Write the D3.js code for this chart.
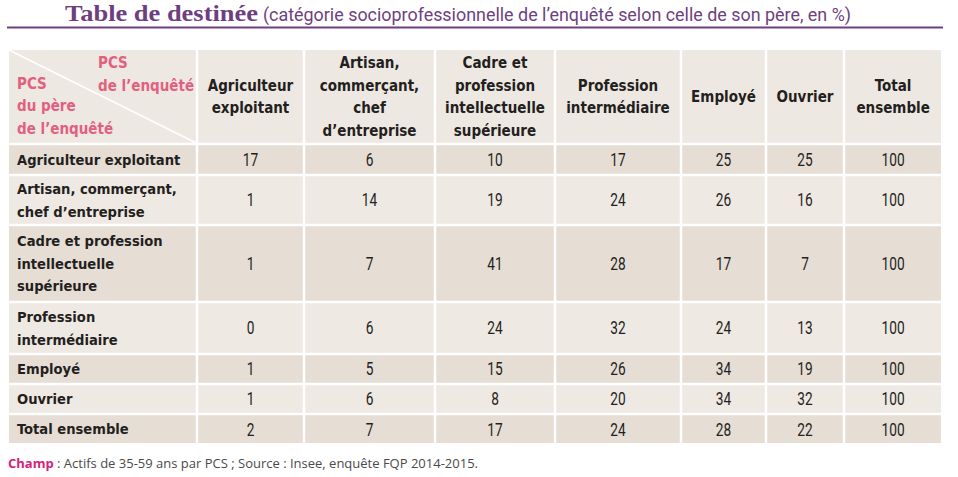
<!DOCTYPE html>
<html><head><meta charset="utf-8">
<script src="https://cdn.jsdelivr.net/npm/d3@7"></script>
<style>
html,body{margin:0;padding:0;background:#fff;}
svg{display:block;}
</style></head>
<body>
<svg id="chart" width="958" height="477"></svg>
<script>
// ---------- data ----------
const titleMain = "Table de destinée";
const titleSub = "(catégorie socioprofessionnelle de l’enquêté selon celle de son père, en %)";
const cornerTop = ["PCS", "de l’enquêté"];
const cornerBottom = ["PCS", "du père", "de l’enquêté"];
const colHeaders = [
  ["Agriculteur", "exploitant"],
  ["Artisan,", "commerçant,", "chef", "d’entreprise"],
  ["Cadre et", "profession", "intellectuelle", "supérieure"],
  ["Profession", "intermédiaire"],
  ["Employé"],
  ["Ouvrier"],
  ["Total", "ensemble"]
];
const rowLabels = [
  ["Agriculteur exploitant"],
  ["Artisan, commerçant,", "chef d’entreprise"],
  ["Cadre et profession", "intellectuelle", "supérieure"],
  ["Profession", "intermédiaire"],
  ["Employé"],
  ["Ouvrier"],
  ["Total ensemble"]
];
const values = [
  [17, 6, 10, 17, 25, 25, 100],
  [1, 14, 19, 24, 26, 16, 100],
  [1, 7, 41, 28, 17, 7, 100],
  [0, 6, 24, 32, 24, 13, 100],
  [1, 5, 15, 26, 34, 19, 100],
  [1, 6, 8, 20, 34, 32, 100],
  [2, 7, 17, 24, 28, 22, 100]
];
const footBold = "Champ";
const footText = " : Actifs de 35-59 ans par PCS ; Source : Insee, enquête FQP 2014-2015.";

// ---------- layout ----------
const colEdges = [9, 197, 304, 435, 555, 681, 766, 844, 941];   // boundaries between columns
const rowEdges = [50, 144, 175, 225, 302, 354, 384, 414, 443];   // boundaries between rows
const gap = 2.5;
const lineH = 22.5;
const C = {
  purple: "#6e3f80",
  pink: "#e2607f",
  magenta: "#d4237a",
  dark: "#e6ddd5",
  light: "#efe9e3",
  head: "#eee8e2",
  text: "#231f20",
  foot: "#4a4a4a"
};
const condBold = "'DejaVu Sans Condensed','DejaVu Sans',sans-serif";
const numFont = "Roboto,'Noto Sans',sans-serif";

const svg = d3.select("#chart");

const nCols = colEdges.length - 1, nRows = rowEdges.length - 1;
const xL = d3.scaleOrdinal().domain(d3.range(nCols)).range(colEdges.slice(0, -1));
const xR = d3.scaleOrdinal().domain(d3.range(nCols)).range(colEdges.slice(1));
const yT = d3.scaleOrdinal().domain(d3.range(nRows)).range(rowEdges.slice(0, -1));
const yB = d3.scaleOrdinal().domain(d3.range(nRows)).range(rowEdges.slice(1));
const cell = (r, c) => {
  const x0 = xL(c) + (c === 0 ? 0 : gap / 2), x1 = xR(c) - (c === nCols - 1 ? 0 : gap / 2);
  const y0 = yT(r) + (r === 0 ? 0 : gap / 2), y1 = yB(r) - (r === nRows - 1 ? 0 : gap / 2);
  return {x: x0, y: y0, w: x1 - x0, h: y1 - y0, cx: (x0 + x1) / 2, cy: (y0 + y1) / 2};
};

// ---------- title ----------
svg.append("text").attr("x", 65).attr("y", 21).text(titleMain)
  .attr("font-family", "'Liberation Serif','Times New Roman',serif")
  .attr("font-weight", "bold").attr("font-size", 23).attr("fill", C.purple)
  .attr("textLength", 193).attr("lengthAdjust", "spacingAndGlyphs");
svg.append("text").attr("x", 263).attr("y", 21).text(titleSub)
  .attr("font-family", numFont).attr("font-size", 18).attr("fill", C.purple)
  .attr("textLength", 588).attr("lengthAdjust", "spacingAndGlyphs");
svg.append("line").attr("x1", 7).attr("x2", 943).attr("y1", 27.5).attr("y2", 27.5)
  .attr("stroke", C.purple).attr("stroke-width", 2);

// ---------- cells ----------
const cellsData = [];
for (let r = 0; r < nRows; r++) for (let c = 0; c < nCols; c++) cellsData.push({r, c});
svg.append("g").selectAll("rect").data(cellsData).join("rect")
  .each(function(d){ Object.assign(d, cell(d.r, d.c)); })
  .attr("x", d => d.x).attr("y", d => d.y).attr("width", d => d.w).attr("height", d => d.h)
  .attr("fill", d => d.r === 0 ? C.head : (d.r % 2 === 1 ? C.dark : C.light));

// corner diagonal
const k = cell(0, 0);
svg.append("line").attr("x1", k.x).attr("y1", k.y).attr("x2", k.x + k.w).attr("y2", k.y + k.h)
  .attr("stroke", "#fff").attr("stroke-width", 1.5);

function multi(g, lines, x, cy, anchor, opts) {
  const t = g.append("text").attr("x", x).attr("text-anchor", anchor)
    .attr("font-family", opts.family).attr("font-weight", opts.weight || "normal")
    .attr("font-size", opts.size).attr("fill", opts.fill);
  const n = lines.length;
  lines.forEach((ln, i) => {
    t.append("tspan").attr("x", x).attr("y", cy + (i - (n - 1) / 2) * lineH).attr("dy", "0.36em").text(ln);
  });
  return t;
}

const gText = svg.append("g");
multi(gText, cornerTop, 98, 74, "start", {family: condBold, weight: "bold", size: 15, fill: C.pink});
multi(gText, cornerBottom, 17, 106, "start", {family: condBold, weight: "bold", size: 15, fill: C.pink});

colHeaders.forEach((lines, i) => {
  const c = cell(0, i + 1);
  multi(gText, lines, c.cx, c.cy, "middle", {family: condBold, weight: "bold", size: 15, fill: C.text});
});
rowLabels.forEach((lines, i) => {
  const c = cell(i + 1, 0);
  multi(gText, lines, 17, c.cy, "start", {family: condBold, weight: "bold", size: 14.6, fill: C.text});
});
// values (condensed digits via horizontal scaling)
values.forEach((row, r) => {
  row.forEach((v, j) => {
    const c = cell(r + 1, j + 1);
    const g = gText.append("g").attr("transform", `translate(${c.cx},${c.cy}) scale(0.76,1)`);
    multi(g, [String(v)], 0, 0, "middle", {family: numFont, size: 18, fill: C.text});
  });
});

// ---------- footer ----------
const foot = svg.append("text").attr("x", 8).attr("y", 468)
  .attr("font-family", "'Open Sans','Noto Sans',sans-serif").attr("font-size", 13);
foot.append("tspan").text(footBold).attr("font-weight", "bold").attr("fill", C.magenta);
foot.append("tspan").text(footText).attr("fill", C.foot);
</script>
</body></html>
